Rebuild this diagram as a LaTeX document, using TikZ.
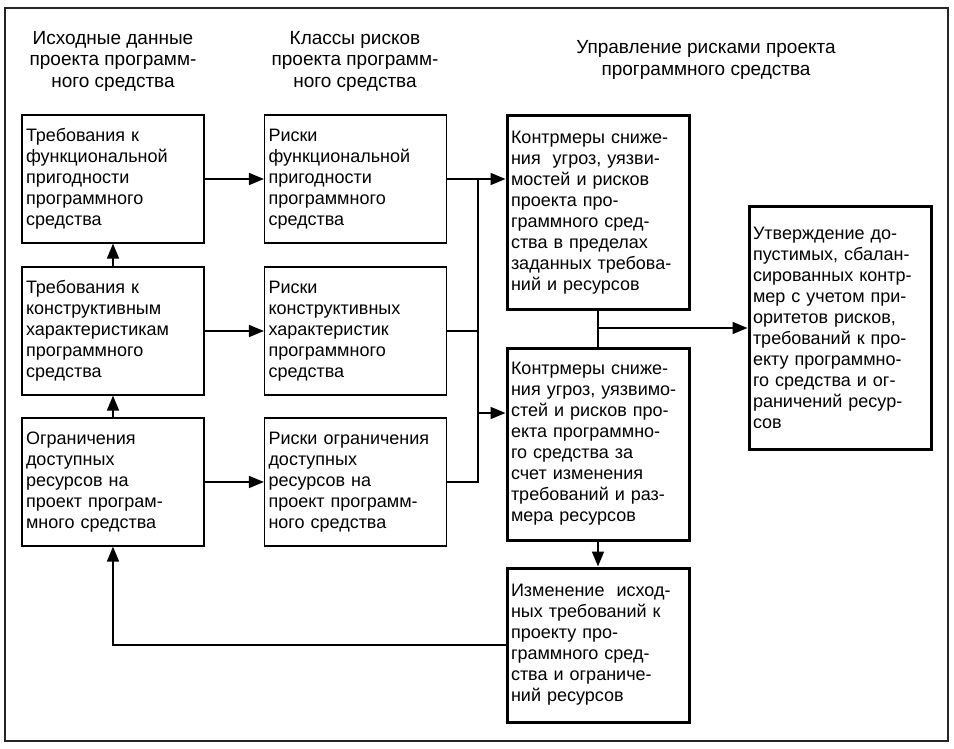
\documentclass[tikz,border=0pt]{standalone}
\usepackage{fontspec}
\setmainfont{Liberation Sans}
\usetikzlibrary{arrows.meta}
\begin{document}
\begin{tikzpicture}[x=1pt,y=-1pt,
  txt/.style={font=\fontsize{18}{21}\selectfont},
  box/.style={txt, draw, line width=1.2pt, minimum height=128pt, text width=174pt,
              inner xsep=4pt, inner ysep=0pt, align=left},
  tbox/.style={box, line width=3pt},
  hdr/.style={font=\fontsize{19}{21.5}\selectfont, align=center, inner sep=0pt},
  ln/.style={line width=1.7pt},
  arr/.style={ln, -{Triangle[length=15pt,width=12pt]}}]
\useasboundingbox (0,0) rectangle (954,749);
\draw[line width=1.5pt, black!85] (5,8) rectangle (948,741);

% headers
\node[hdr] (h1) at (113,61) {Исходные данные\\проекта программ-\\ного средства};
\node[hdr] (h2) at (355,61) {Классы рисков\\проекта программ-\\ного средства};
\node[hdr] (h3) at (706,60) {Управление рисками проекта\\программного средства};

% column 1
\node[box] (a1) at (113,179) {Требования к\\функциональной\\пригодности\\программного\\средства};
\node[box] (a2) at (113,331) {Требования к\\конструктивным\\характеристикам\\программного\\средства};
\node[box] (a3) at (113,482) {Ограничения\\доступных\\ресурсов на\\проект програм-\\много средства};

% column 2
\node[box] (r1) at (355.5,179) {Риски\\функциональной\\пригодности\\программного\\средства};
\node[box] (r2) at (355.5,331) {Риски\\конструктивных\\характеристик\\программного\\средства};
\node[box] (r3) at (355.5,482) {Риски ограничения\\доступных\\ресурсов на\\проект программ-\\ного средства};

% column 3
\node[tbox, minimum height=193pt] (c1) at (598,212.5) {Контрмеры сниже-\\ния \ угроз, уязви-\\мостей и рисков\\проекта про-\\граммного сред-\\ства в пределах\\заданных требова-\\ний и ресурсов};
\node[tbox, minimum height=192pt] (c2) at (598,444) {Контрмеры сниже-\\ния угроз, уязвимо-\\стей и рисков про-\\екта программно-\\го средства за\\счет изменения\\требований и раз-\\мера ресурсов};
\node[tbox, minimum height=154pt] (c3) at (598,645) {Изменение \ исход-\\ных требований к\\проекту про-\\граммного сред-\\ства и ограниче-\\ний ресурсов};

% column 4
\node[tbox, minimum height=242pt] (rr) at (840,328) {Утверждение до-\\пустимых, сбалан-\\сированных контр-\\мер с учетом при-\\оритетов рисков,\\требований к про-\\екту программно-\\го средства и ог-\\раничений ресур-\\сов};

% connectors
\draw[arr] (a1) -- (r1);
\draw[arr] (a2) -- (r2);
\draw[arr] (a3) -- (r3);
\draw[arr] (a2) -- (a1);
\draw[arr] (a3) -- (a2);

\coordinate (bt) at (478,179);
\coordinate (bb) at (478,482);
\coordinate (bm) at (478,413);
\draw[ln] (r1.east) -- (bt) -- (bb) -- (r3.east);
\draw[ln] (r2.east) -- (r2.east -| bt);
\draw[arr] (bt) -- (bt -| c1.west);
\draw[arr] (bm) -- (bm -| c2.west);

\coordinate (jm) at (c1.south |- rr.west);
\draw[ln] (c1) -- (c2);
\draw[arr] (jm) -- (rr.west);
\draw[arr] (c2) -- (c3);
\draw[arr] (c3.west) -| (a3.south);
\end{tikzpicture}
\end{document}
